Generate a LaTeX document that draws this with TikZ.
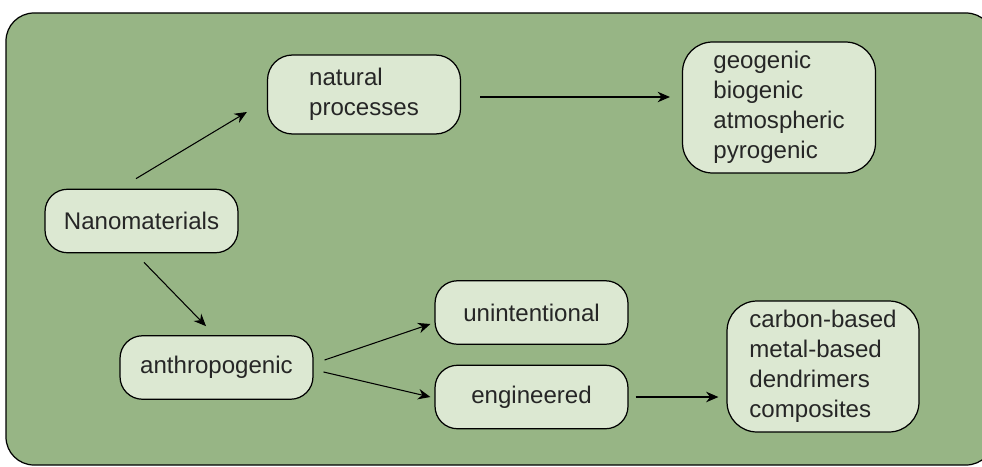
\documentclass[tikz,border=0pt]{standalone}
\usepackage{fontspec}
\setmainfont{Liberation Sans}
\usetikzlibrary{arrows.meta,positioning,calc}
\definecolor{panelgreen}{RGB}{151,181,133}
\definecolor{boxgreen}{RGB}{220,232,210}
\definecolor{inkgray}{RGB}{38,38,38}
\tikzset{
    panel/.style={draw, line width=0.7pt, fill=panelgreen, rounded corners=0.56cm},
    stage/.style={draw, line width=0.7pt, fill=boxgreen, rounded corners=0.45cm,
                  minimum width=3.86cm, minimum height=1.27cm, text=inkgray,
                  font=\fontsize{13.7}{17}\selectfont},
    listbox/.style={stage, align=left, rounded corners=0.6cm, minimum height=2.62cm},
    arr/.style={-{Stealth[length=7pt,width=6pt]}, line width=0.6pt},
}
\begin{document}
\begin{tikzpicture}[x=0.02cm, y=-0.02cm]
    \clip (0,0) rectangle (982,466);

    % Background panel
    \draw[panel] (6,13) rectangle (994,465);

    % Source
    \node[stage] (nano) at (141.5,221) {Nanomaterials};

    % Natural branch
    \node[stage, align=left, minimum height=1.58cm, rounded corners=0.5cm] (nat) at (364,94.5) {natural\\processes};
    \node[listbox] (geo) at (779,107.5) {geogenic\\biogenic\\atmospheric\\pyrogenic};

    % Anthropogenic branch
    \node[stage] (anthro) at (216.5,367.5) {anthropogenic};
    \node[stage] (unint) at (531.5,312.5) {unintentional};
    \node[stage] (eng) at (531.5,397) {engineered};
    \node[listbox, minimum width=3.84cm] (carbon) at (823,366.5) {carbon-based\\metal-based\\dendrimers\\composites};

    % Arrows
    \draw[arr] ([xshift=-0.11cm,yshift=0.2cm]nano.north) -- ([xshift=-0.4cm,yshift=-0.35cm]nat.west);
    \draw[arr, shorten <=0.38cm, shorten >=0.24cm] ([yshift=-0.05cm]nat.east) -- ([yshift=-0.05cm]nat.east -| geo.west);
    \draw[arr] ([xshift=0.05cm,yshift=-0.18cm]nano.south) -- ([xshift=-0.21cm,yshift=0.18cm]anthro.north);
    \draw[arr] ([xshift=0.22cm,yshift=0.15cm]anthro.east) -- ([xshift=-0.08cm,yshift=-0.23cm]unint.west);
    \draw[arr] ([xshift=0.2cm,yshift=-0.09cm]anthro.east) -- ([xshift=-0.08cm,yshift=0cm]eng.west);
    \draw[arr, shorten <=0.14cm, shorten >=0.16cm] (eng.east) -- (eng.east -| carbon.west);
\end{tikzpicture}
\end{document}
